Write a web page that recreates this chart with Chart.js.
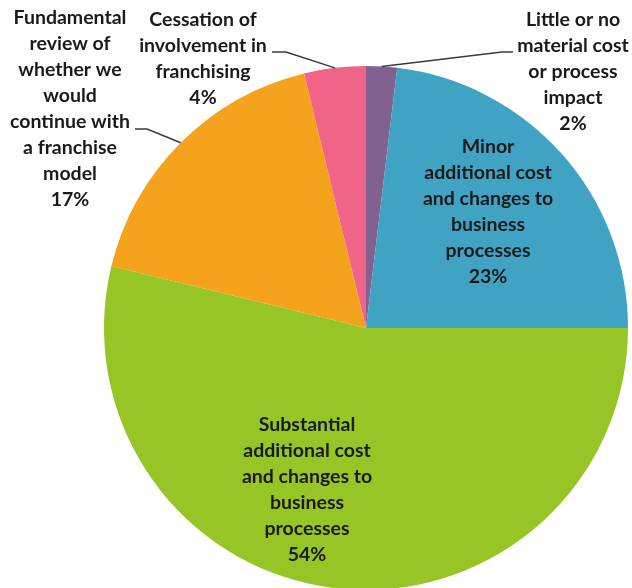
<!DOCTYPE html>
<html>
<head>
<meta charset="utf-8">
<script src="https://cdn.jsdelivr.net/npm/chart.js@4.4.1/dist/chart.umd.min.js"></script>
<style>
  html, body { margin: 0; padding: 0; background: #ffffff; }
  #wrap { width: 632px; height: 588px; overflow: hidden; position: relative; }
  #box { width: 632px; height: 592px; position: absolute; left: 0; top: 0; }
</style>
</head>
<body>
<div id="wrap"><div id="box"><canvas id="c"></canvas></div></div>
<script>
// ---- data ----
const categories = [
  ['Little or no', 'material cost', 'or process', 'impact'],
  ['Minor', 'additional cost', 'and changes to', 'business', 'processes'],
  ['Substantial', 'additional cost', 'and changes to', 'business', 'processes'],
  ['Fundamental', 'review of', 'whether we', 'would', 'continue with', 'a franchise', 'model'],
  ['Cessation of', 'involvement in', 'franchising']
];
const values = [1.9, 23.1, 53.8, 17.4, 3.8];
const colors = ['#80618F', '#41A3C3', '#97C526', '#F5A31C', '#F06487'];

// ---- label layout (offsets from pie centre, px) ----
const placements = [
  { cx: 207, top: -308, leader: { ax: 147, ay: -276, elbow: -11 } },
  { cx: 122, top: -181 },
  { cx: -59, top: 97 },
  { cx: -296, top: -310, leader: { ax: -231, ay: -199, elbow: 12 } },
  { cx: -163, top: -308, leader: { ax: -94, ay: -276, elbow: 14 } }
];
const LINE_H = 26;
const FONT = 'bold 19.5px Lato';

const labelPlugin = {
  id: 'sliceLabels',
  afterDatasetsDraw(chart) {
    const ctx = chart.ctx;
    const meta = chart.getDatasetMeta(0);
    const total = values.reduce((a, b) => a + b, 0);
    meta.data.forEach((arc, i) => {
      const p = arc.getProps(['x', 'y', 'outerRadius', 'startAngle', 'endAngle'], true);
      const pl = placements[i];
      const lines = categories[i].concat([Math.round(values[i] / total * 100) + '%']);
      ctx.save();
      if (pl.leader) {
        const mid = (p.startAngle + p.endAngle) / 2;
        const ex = p.x + Math.cos(mid) * p.outerRadius;
        const ey = p.y + Math.sin(mid) * p.outerRadius;
        const ax = p.x + pl.leader.ax, ay = p.y + pl.leader.ay;
        ctx.strokeStyle = '#3a3a3a';
        ctx.lineWidth = 1.5;
        ctx.beginPath();
        ctx.moveTo(ax, ay);
        ctx.lineTo(ax + pl.leader.elbow, ay);
        ctx.lineTo(ex, ey);
        ctx.stroke();
      }
      ctx.fillStyle = '#1a1a1a';
      ctx.font = FONT;
      ctx.textAlign = 'center';
      ctx.textBaseline = 'middle';
      lines.forEach((t, k) => {
        ctx.fillText(t, p.x + pl.cx, p.y + pl.top + k * LINE_H);
      });
      ctx.restore();
    });
  }
};

new Chart(document.getElementById('c'), {
  type: 'pie',
  data: {
    labels: categories,
    datasets: [{
      data: values,
      backgroundColor: colors,
      borderWidth: 0
    }]
  },
  options: {
    responsive: true,
    maintainAspectRatio: false,
    animation: false,
    layout: { padding: { left: 104, right: 4, top: 66, bottom: 2 } },
    plugins: {
      legend: { display: false },
      tooltip: { enabled: false }
    }
  },
  plugins: [labelPlugin]
});
</script>
</body>
</html>
